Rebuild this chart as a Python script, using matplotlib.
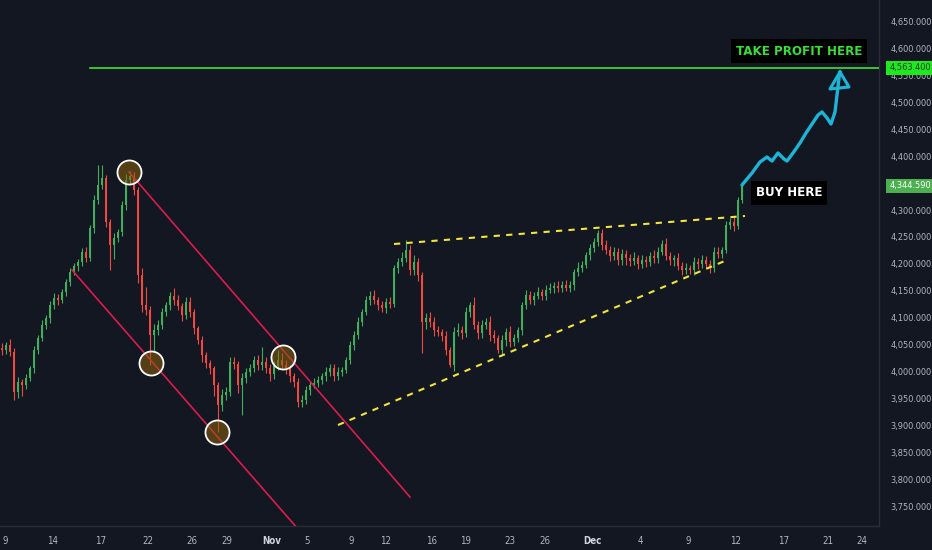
"""XAUUSD-style candlestick chart with channel / wedge drawings, TradingView dark look."""
import matplotlib
matplotlib.use("Agg")
import matplotlib.pyplot as plt
from matplotlib import font_manager as fm
import numpy as np

# ---------------------------------------------------------------------------
# data (bar index on x, price on y)
# ---------------------------------------------------------------------------
first_open = 4045
closes = [
    4041, 4050, 4037, 3963, 3981, 3976, 3989, 4007, 4041, 4063,
    4087, 4100, 4124, 4137, 4133, 4148, 4167, 4185, 4196, 4204,
    4222, 4211, 4267, 4319, 4346, 4359, 4278, 4235, 4248, 4259,
    4309, 4356, 4363, 4337, 4180, 4124, 4115, 4069, 4078, 4087,
    4111, 4124, 4141, 4133, 4122, 4106, 4130, 4111, 4081, 4059,
    4031, 4017, 4007, 3976, 3939, 3957, 3963, 4019, 4015, 3976,
    3989, 4000, 4007, 4022, 4013, 4019, 4007, 3996, 4011, 4022,
    4013, 4007, 3993, 3981, 3944, 3948, 3967, 3976, 3980, 3985,
    3993, 4000, 4007, 3993, 4000, 4004, 4022, 4050, 4069, 4093,
    4111, 4133, 4141, 4133, 4124, 4119, 4130, 4126, 4193, 4204,
    4211, 4226, 4189, 4204, 4180, 4093, 4100, 4093, 4078, 4074,
    4067, 4041, 4013, 4074, 4078, 4072, 4111, 4124, 4087, 4072,
    4087, 4093, 4069, 4063, 4041, 4059, 4074, 4056, 4063, 4078,
    4124, 4142, 4133, 4141, 4148, 4141, 4152, 4156, 4159, 4156,
    4161, 4156, 4161, 4185, 4193, 4198, 4217, 4230, 4241, 4257,
    4235, 4226, 4215, 4222, 4207, 4219, 4211, 4206, 4211, 4200,
    4207, 4204, 4215, 4211, 4222, 4237, 4215, 4207, 4211, 4196,
    4189, 4193, 4189, 4204, 4200, 4207, 4200, 4193, 4222, 4219,
    4226, 4272, 4278, 4270, 4319, 4344.59,
]
wick_up = [
    9, 6, 12, 8, 10, 6, 8, 5, 7, 6,
    9, 5, 7, 10, 8, 6, 5, 7, 6, 5,
    8, 10, 6, 8, 37, 24, 6, 5, 9, 6,
    7, 11, 9, 8, 5, 12, 33, 8, 10, 9,
    7, 6, 8, 15, 9, 5, 9, 8, 6, 5,
    7, 6, 5, 4, 6, 12, 9, 9, 8, 6,
    10, 8, 7, 8, 9, 27, 8, 7, 10, 18,
    14, 9, 6, 5, 8, 10, 7, 6, 8, 7,
    6, 9, 8, 7, 10, 6, 5, 7, 6, 8,
    6, 7, 9, 10, 6, 8, 7, 9, 5, 8,
    12, 18, 10, 13, 7, 5, 9, 12, 8, 7,
    6, 8, 5, 9, 12, 7, 9, 6, 14, 8,
    9, 7, 10, 8, 6, 9, 8, 12, 7, 6,
    5, 9, 8, 7, 9, 6, 10, 8, 7, 9,
    8, 9, 7, 6, 10, 8, 6, 7, 8, 6,
    8, 9, 7, 10, 8, 9, 7, 8, 12, 6,
    9, 7, 8, 10, 9, 7, 12, 8, 6, 9,
    7, 8, 6, 9, 8, 10, 7, 8, 9, 10,
    6, 8, 7, 10, 6, 5,
]
wick_dn = [
    10, 7, 8, 15, 12, 20, 8, 6, 9, 7,
    6, 8, 10, 7, 9, 6, 8, 7, 6, 9,
    7, 8, 6, 10, 8, 7, 9, 46, 25, 8,
    7, 9, 8, 10, 15, 12, 9, 56, 30, 9,
    8, 7, 10, 9, 8, 12, 7, 9, 10, 8,
    12, 9, 10, 20, 50, 12, 9, 8, 10, 14,
    55, 9, 8, 7, 10, 9, 8, 12, 9, 7,
    8, 10, 12, 9, 9, 8, 7, 9, 6, 8,
    7, 10, 8, 9, 7, 8, 6, 7, 9, 8,
    7, 6, 9, 8, 10, 7, 9, 8, 6, 9,
    8, 7, 10, 9, 12, 58, 14, 9, 11, 8,
    10, 9, 4, 12, 8, 10, 7, 9, 8, 10,
    9, 8, 11, 9, 6, 8, 10, 9, 8, 7,
    9, 8, 7, 9, 6, 8, 7, 6, 9, 8,
    7, 6, 8, 9, 7, 8, 6, 9, 7, 8,
    9, 8, 10, 7, 9, 8, 12, 9, 8, 10,
    7, 9, 8, 10, 9, 6, 8, 9, 10, 8,
    9, 7, 8, 10, 9, 8, 7, 9, 8, 7,
    8, 6, 7, 9, 5, 6,
]

tick_pos = [0.75, 12.75, 24.75, 36.5, 47.5, 56.25, 67.5, 76.25, 87.25, 96,
            107.5, 116, 127, 135.75, 147.5, 159.5, 171.5, 183.5, 195.5, 206.5, 215]
tick_labels = ["9", "14", "17", "22", "26", "29", "Nov", "5", "9", "12", "16",
               "19", "23", "26", "Dec", "4", "9", "12", "17", "21", "24"]

take_profit = 4563.4
last_price = 4344.59

# chart drawings (bar, price)
channel_upper = ([31.75, 102.0], [4370.4, 3768.5])
channel_lower = ([17.5, 74.5], [4188.9, 3705.0])
touch_x = [31.75, 37.25, 53.75, 70.25]
touch_y = [4370.4, 4016.6, 3888.8, 4027.7]
wedge_upper = ([98.0, 185.75], [4237.0, 4288.9])
wedge_lower = ([84.0, 181.25], [3901.8, 4207.4])
path_x = [185.0, 187.5, 189.5, 191.25, 192.5, 194.0, 195.5, 196.25, 197.75, 199.5,
          201.0, 202.5, 204.0, 205.0, 206.25, 207.25, 208.25, 208.75, 209.25, 209.5]
path_y = [4346.3, 4368.5, 4388.9, 4398.1, 4390.7, 4405.6, 4394.4, 4390.7, 4405.6, 4424.1,
          4442.6, 4459.2, 4475.9, 4481.5, 4470.4, 4459.2, 4481.5, 4513.0, 4544.5, 4555.6]
arrow_x = [209.5, 207.0, 211.75, 209.5]
arrow_y = [4555.6, 4524.1, 4527.8, 4555.6]
tp_line_start = 22

BG = "#131722"
UP = "#3faf5c"
DOWN = "#ef4a3f"
AXIS_TXT = "#b2b5be"
GRIDC = "#2a2e39"


def narrow_font():
    """Pick the narrowest installed sans face (the screenshot text is condensed)."""
    names = {f.name for f in fm.fontManager.ttflist}
    files = [f.fname for f in fm.fontManager.ttflist]
    if "Liberation Sans Narrow" in names:
        return dict(family="Liberation Sans Narrow")
    if any("DejaVuSansCondensed" in p for p in files):
        return dict(family="DejaVu Sans", stretch="condensed")
    if "Roboto" in names:
        return dict(family="Roboto")
    return dict(family="DejaVu Sans")


NF = narrow_font()

fig = plt.figure(figsize=(9.32, 5.5), dpi=100, facecolor=BG)
ax = fig.add_axes([0, 24 / 550, 879 / 932, 526 / 550], facecolor=BG)

# candles
c = np.array(closes, dtype=float)
o = np.concatenate([[first_open], c[:-1]])
hi = np.maximum(o, c) + np.array(wick_up)
lo = np.minimum(o, c) - np.array(wick_dn)
x = np.arange(len(c))
cols = np.where(c >= o, UP, DOWN)
ax.vlines(x, lo, hi, colors=cols, lw=0.8, zorder=2)
body = np.maximum(np.abs(c - o), 1.5)
ax.bar(x, body, bottom=np.minimum(o, c), width=0.62, color=cols, lw=0, zorder=2)

# drawings
red = "#dc1c4f"
ax.plot(*channel_upper, color=red, lw=1.2, zorder=3)
ax.plot(*channel_lower, color=red, lw=1.2, zorder=3)
ax.scatter(touch_x, touch_y, s=300, facecolor=(0.55, 0.38, 0.05, 0.55),
           edgecolor="white", linewidth=1.3, zorder=4)

yellow = "#f2e53a"
for xs, ys in (wedge_upper, wedge_lower):
    ax.plot(xs, ys, color=yellow, lw=1.5, dashes=(3, 3), zorder=3)

ax.plot([tp_line_start, 260], [take_profit, take_profit], color="#3ccf3c", lw=1.3, zorder=3)

cyan = "#1cb5d8"
ax.plot(path_x, path_y, color=cyan, lw=2.4, solid_joinstyle="round",
        solid_capstyle="round", zorder=5)
ax.plot(arrow_x, arrow_y, color=cyan, lw=2.2, solid_joinstyle="round", zorder=5)

t_tp = ax.text(199.25, 4594.4, "TAKE PROFIT HERE", color="#36e036", fontsize=13,
               fontweight="bold", ha="center", va="center", zorder=6,
               bbox=dict(boxstyle="square,pad=0.4", fc="black", ec="none"), **NF)
t_buy = ax.text(196.75, 4331.5, "BUY HERE", color="white", fontsize=13,
                fontweight="bold", ha="center", va="center", zorder=6,
                bbox=dict(boxstyle="square,pad=0.4", fc="black", ec="none"), **NF)

# axes
ax.set_xlim(-0.5, 219.25)
ax.set_ylim(3714.8, 4688.9)
for side in ("left", "top"):
    ax.spines[side].set_visible(False)
for side in ("right", "bottom"):
    ax.spines[side].set_color(GRIDC)
    ax.spines[side].set_linewidth(1)

ax.yaxis.tick_right()
yt = np.arange(3750, 4651, 50)
ax.set_yticks(yt)
# the 4,350 label sits under the last-price badge in the screenshot
ax.set_yticklabels(["" if v == 4350 else f"{v:,.3f}" for v in yt],
                   fontsize=6.6, color=AXIS_TXT, **NF)
ax.tick_params(axis="y", length=0, pad=8)

ax.set_xticks(tick_pos)
ax.set_xticklabels(tick_labels, fontsize=7, color=AXIS_TXT, **NF)
ax.tick_params(axis="x", length=0, pad=7)
for lbl in ax.get_xticklabels():
    if lbl.get_text() in ("Nov", "Dec"):
        lbl.set_fontweight("bold")
        lbl.set_color("#d1d4dc")

ytx = ax.get_yaxis_transform()
ax.text(1.0115, take_profit, f"{take_profit:,.3f}", transform=ytx, color="#16351a",
        fontsize=6.6, va="center", ha="left", clip_on=False, zorder=7,
        bbox=dict(boxstyle="square,pad=0.3", fc="#1ee81e", ec="none"), **NF)
ax.text(1.0115, last_price, f"{last_price:,.3f}", transform=ytx, color="white",
        fontsize=6.6, va="center", ha="left", clip_on=False, zorder=7,
        bbox=dict(boxstyle="square,pad=0.3", fc="#4caf50", ec="none"), **NF)

# shrink the two callouts to the widths their text takes in the screenshot
fig.canvas.draw()
rend = fig.canvas.get_renderer()
for t, target in ((t_tp, 126), (t_buy, 66)):
    w = t.get_window_extent(rend).width
    t.set_fontsize(min(14, 13 * target / w))

plt.savefig("out.png", dpi=100, facecolor=BG)
